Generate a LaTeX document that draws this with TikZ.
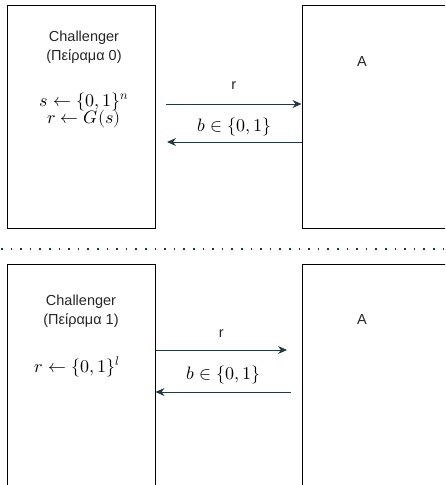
\documentclass[tikz,border=0pt]{standalone}
\usepackage{fontspec}
\setmainfont{Liberation Sans}
\usepackage{amsmath}
\usepackage{unicode-math}
\setmathfont{Latin Modern Math}
\usetikzlibrary{arrows.meta}
\definecolor{arrowc}{HTML}{23393D}
\definecolor{txtc}{HTML}{262626}
\tikzset{
  box/.style={draw=black, line width=1pt, rectangle, inner sep=0pt},
  lbl/.style={text=txtc, font=\fontsize{14.5}{16}\selectfont, inner sep=0pt},
  mth/.style={text=black, font=\fontsize{18}{20}\selectfont, inner sep=0pt, align=center},
  msg/.style={draw=arrowc, line width=1pt, -{Stealth[length=9pt,width=8pt]}},
}
\begin{document}
\begin{tikzpicture}[x=1pt,y=-1pt]
\useasboundingbox (0,0) rectangle (445,485);
\clip (0,0) rectangle (445,485);
% top panel
\node[box, minimum width=148pt, minimum height=223pt] (C0) at (81,116.5) {};
\node[box, minimum width=158pt, minimum height=223pt] (A0) at (381,116.5) {};
\node[lbl] (c0t) at (84,38) {Challenger};
\node[lbl] (c0s) at (84,57) {(Πείραμα 0)};
\node[mth] (c0m) at (84,110.5) {$s \leftarrow \{0,1\}^n$\\[-3pt]$r \leftarrow G(s)$};
\node[lbl] (a0t) at (362,62) {A};
\coordinate (r0s) at (166,104);
\coordinate (r0e) at (A0.west |- r0s);
\coordinate (b0s) at (A0.west |- 0,142);
\coordinate (b0e) at (167,142);
\draw[msg] (r0s) -- (r0e) node[lbl, midway, above=14pt] (r0l) {r};
\draw[msg] (b0s) -- (b0e) node[mth, midway, above=6pt] (b0l) {$b \in \{0,1\}$};
% divider
\coordinate (d1) at (1,249);
\coordinate (d2) at (445,249);
\draw[arrowc, line width=1.6pt, dash pattern=on 1.6pt off 8pt] (d1) -- (d2);
% bottom panel
\node[box, minimum width=148pt, minimum height=236pt] (C1) at (81,382) {};
\node[box, minimum width=158pt, minimum height=236pt] (A1) at (381,382) {};
\node[lbl] (c1t) at (81,302) {Challenger};
\node[lbl] (c1s) at (81,321) {(Πείραμα 1)};
\node[mth] (c1m) at (77,367) {$r \leftarrow \{0,1\}^l$};
\node[lbl] (a1t) at (362,320) {A};
\coordinate (r1s) at (C1.east |- 0,350);
\coordinate (r1e) at (287,350);
\coordinate (b1s) at (291,392);
\coordinate (b1e) at (C1.east |- 0,392);
\draw[msg] (r1s) -- (r1e) node[lbl, midway, above=12pt] (r1l) {r};
\draw[msg] (b1s) -- (b1e) node[mth, midway, above=8pt] (b1l) {$b \in \{0,1\}$};
\end{tikzpicture}
\end{document}
